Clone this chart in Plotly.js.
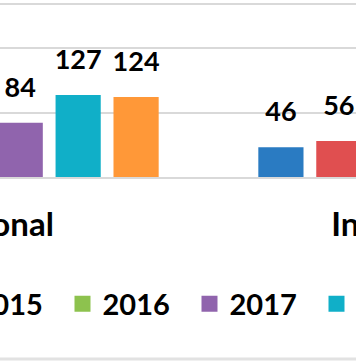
<!DOCTYPE html>
<html><head><meta charset="utf-8">
<script src="https://cdn.plot.ly/plotly-3.0.1.min.js"></script>
<style>
html,body{margin:0;padding:0;overflow:hidden;width:356px;height:364px;background:#fff}
#wrap{position:relative;width:356px;height:364px;overflow:hidden}
#chart{position:absolute;left:-260px;top:0;width:1000px;height:364px}
</style>
</head><body><div id="wrap"><div id="chart"></div></div>
<script>
// Data (off-screen ones estimated)
const categories = ['National', 'International'];
const years = ['2014', '2015', '2016', '2017', '2018', '2019'];
const values2014 = [52, 46];
const values2015 = [61, 56];
const values2016 = [70, 63];
const values2017 = [84, 75];
const values2018 = [127, 98];
const values2019 = [124, 105];
const seriesValues = [values2014, values2015, values2016, values2017, values2018, values2019];
const colors = ['#2a7bc2', '#e04f50', '#8dc24e', '#9064ad', '#10afc8', '#ff9838'];

const labelFont = {family: 'Lato', size: 27, weight: 700, color: '#000'};
const traces = [];
seriesValues.forEach((vals, i) => {
  traces.push({
    type: 'bar', x: categories, y: vals, name: years[i],
    marker: {color: colors[i]}, showlegend: false, hoverinfo: 'skip'
  });
});
seriesValues.forEach((vals, i) => {
  traces.push({
    type: 'scatter', mode: 'markers+text', x: categories, y: vals,
    text: vals.map(String), textposition: 'top center', textfont: labelFont,
    marker: {size: 29, opacity: 0, color: colors[i]}, showlegend: false,
    hoverinfo: 'skip', cliponaxis: false
  });
});
years.forEach((yr, i) => {
  traces.push({
    type: 'scatter', mode: 'markers', x: [null], y: [null], xaxis: 'x2', yaxis: 'y2',
    name: yr, marker: {symbol: 'square', size: 16, color: colors[i]}, showlegend: true
  });
});

const layout = {
  width: 1000, height: 364,
  margin: {l: 34, r: 97, t: 5, b: 187, pad: 0},
  paper_bgcolor: '#fff', plot_bgcolor: '#fff',
  barmode: 'group', bargap: 0.2, bargroupgap: 0.22,
  scattermode: 'group', scattergap: 0.2,
  font: {family: 'Lato', color: '#000'},
  xaxis: {type: 'category', range: [-0.5, 1.5], showgrid: false, zeroline: false,
    showline: true, mirror: true, linecolor: '#d9d9d9', linewidth: 2, ticks: '',
    tickfont: {family: 'Lato', size: 33, weight: 700, color: '#000'}, ticklabelstandoff: 17},
  yaxis: {range: [0, 266.7], dtick: 100, tick0: 0, showgrid: true, gridcolor: '#d9d9d9',
    gridwidth: 2, zeroline: false, showticklabels: false, ticks: '', showline: false},
  xaxis2: {overlaying: 'x', visible: false},
  yaxis2: {overlaying: 'y', visible: false},
  showlegend: true,
  legend: {orientation: 'h', x: 0.0397, xanchor: 'left', y: -0.738, yanchor: 'middle',
    font: {family: 'Lato', size: 29, weight: 700, color: '#000'},
    entrywidth: 82, entrywidthmode: 'pixels', bgcolor: 'rgba(0,0,0,0)'},
  shapes: [{type: 'line', xref: 'paper', yref: 'paper', x0: -0.5, x1: 1.5, y0: -1.058, y1: -1.058,
    line: {color: '#e2e2e2', width: 3}}]
};
Plotly.newPlot('chart', traces, layout, {staticPlot: true, displayModeBar: false});
</script>
</body></html>
